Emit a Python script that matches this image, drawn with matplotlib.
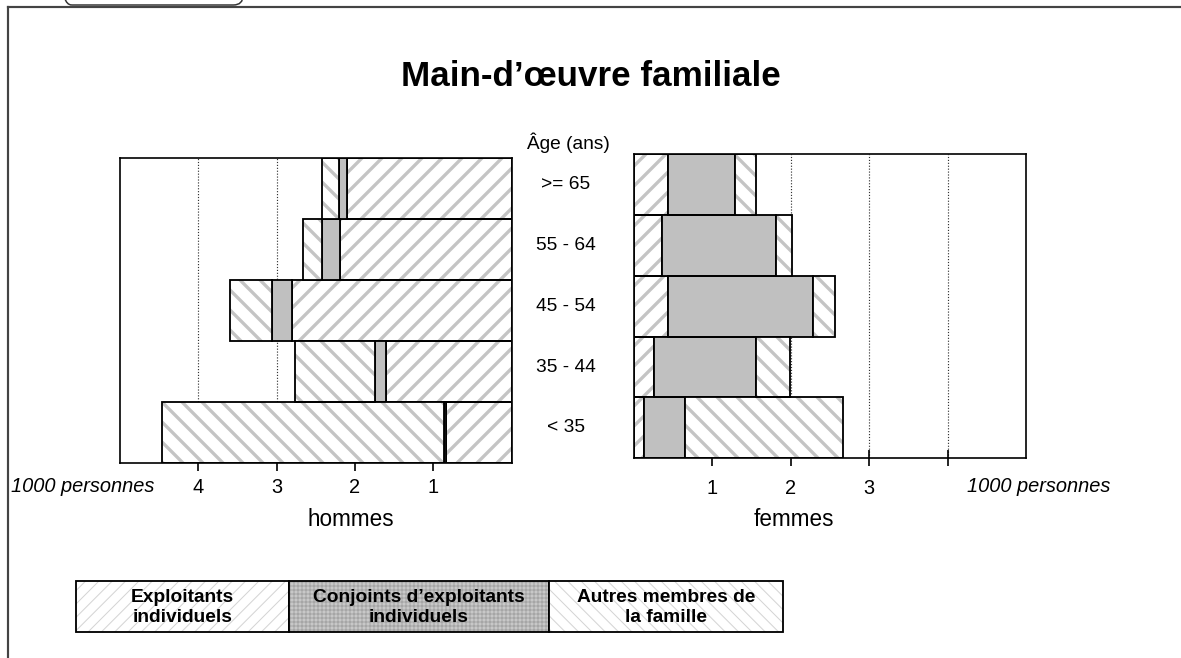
import matplotlib
matplotlib.use('Agg')
import matplotlib.pyplot as plt
import matplotlib.transforms as mtransforms
from matplotlib.patches import Rectangle, FancyBboxPatch
from matplotlib.lines import Line2D

plt.rcParams['font.family'] = ['Liberation Sans', 'DejaVu Sans']
plt.rcParams['hatch.linewidth'] = 2.0

# age groups, bottom to top
ages = ['< 35', '35 - 44', '45 - 54', '55 - 64', '>= 65']

# thousands of persons
hommes_exploitants = [0.84, 1.61, 2.81, 2.19, 2.10]
hommes_conjoints = [0.02, 0.14, 0.25, 0.23, 0.10]
hommes_autres = [3.61, 1.01, 0.53, 0.24, 0.22]

femmes_exploitants = [0.13, 0.26, 0.44, 0.36, 0.44]
femmes_conjoints = [0.52, 1.29, 1.84, 1.45, 0.85]
femmes_autres = [2.01, 0.44, 0.28, 0.20, 0.26]

ticks = [1, 2, 3, 4]
hommes_ticklabels = ['1', '2', '3', '4']
femmes_ticklabels = ['1', '2', '3', '']

legend_labels = ['Exploitants\nindividuels',
                 'Conjoints d\u2019exploitants\nindividuels',
                 'Autres membres de\nla famille']

W, H, DPI = 1181, 658, 120
STRIPE = '#c4c4c4'
GRAY = '#c0c0c0'

fig = plt.figure(figsize=(W / DPI, H / DPI), dpi=DPI)


def fx(px):
    return px / W


def fy(py):
    return 1 - py / H


ax_h = fig.add_axes([fx(120), fy(463.3), (511.7 - 120) / W, (463.3 - 158.3) / H])
ax_f = fig.add_axes([fx(634), fy(458.3), (1026 - 634) / W, (458.3 - 154) / H])


def stacked(ax, series):
    y = list(range(len(ages)))
    left = [0.0] * len(ages)
    for vals, hatch in series:
        if hatch:
            ax.barh(y, vals, left=left, height=1.0, color='white',
                    edgecolor=STRIPE, hatch=hatch, linewidth=0)
        else:
            ax.barh(y, vals, left=left, height=1.0, color=GRAY, linewidth=0)
        ax.barh(y, vals, left=left, height=1.0, fill=False,
                edgecolor='black', linewidth=1.1)
        left = [l + v for l, v in zip(left, vals)]


stacked(ax_h, [(hommes_exploitants, '//'), (hommes_conjoints, None), (hommes_autres, '\\\\')])
stacked(ax_f, [(femmes_exploitants, '//'), (femmes_conjoints, None), (femmes_autres, '\\\\')])

for ax, labels, pad in ((ax_h, hommes_ticklabels, 4), (ax_f, femmes_ticklabels, 7.3)):
    ax.set_ylim(-0.5, len(ages) - 0.5)
    ax.set_yticks([])
    ax.set_xticks(ticks, labels)
    ax.tick_params(axis='x', direction='inout', length=10, width=1, pad=pad, labelsize=12)
    ax.xaxis.grid(True, linestyle=(0, (1, 1.5)), color='#333333', linewidth=0.7)
    ax.set_axisbelow(True)
    for s in ax.spines.values():
        s.set_linewidth(1.0)

ax_h.set_xlim(5, 0)
ax_f.set_xlim(0, 5)

# texts
fig.text(fx(591), fy(76), 'Main-d\u2019\u0153uvre familiale', ha='center', va='center',
         fontsize=21, fontweight='bold')
fig.text(fx(568), fy(143), '\u00c2ge (ans)', ha='center', va='center', fontsize=11.5)
trans = mtransforms.blended_transform_factory(fig.transFigure, ax_f.transData)
for i, a in enumerate(ages):
    fig.text(fx(566), i, a, transform=trans, ha='center', va='center', fontsize=11.5)

fig.text(fx(83), fy(487), '1000 personnes', ha='center', va='center', fontsize=12, style='italic')
fig.text(fx(1039), fy(487), '1000 personnes', ha='center', va='center', fontsize=12, style='italic')
fig.text(fx(351), fy(520), 'hommes', ha='center', va='center', fontsize=13.5)
fig.text(fx(794), fy(520), 'femmes', ha='center', va='center', fontsize=13.5)

# legend boxes
cells = [76, 289, 549, 783]
styles = [('white', '#d4d4d4', '///'), ('#c8c8c8', '#a6a6a6', '+++++'), ('white', '#d4d4d4', '\\\\\\')]
for i, lab in enumerate(legend_labels):
    x0, x1 = cells[i], cells[i + 1]
    face, hcol, hatch = styles[i]
    p = Rectangle((fx(x0), fy(632)), (x1 - x0) / W, (632 - 581) / H, transform=fig.transFigure,
                  facecolor=face, edgecolor=hcol, hatch=hatch, linewidth=0)
    if hasattr(p, 'set_hatch_linewidth'):
        p.set_hatch_linewidth(0.6)
    fig.patches.append(p)
    fig.patches.append(Rectangle((fx(x0), fy(632)), (x1 - x0) / W, (632 - 581) / H,
                                 transform=fig.transFigure, fill=False,
                                 edgecolor='black', linewidth=1.1))
    fig.text(fx((x0 + x1) / 2), fy(607.5), lab, ha='center', va='center', fontsize=11.5,
             fontweight='bold', linespacing=1.3)

# outer frame and tab
fig.lines.append(Line2D([fx(8), 1], [fy(7), fy(7)], transform=fig.transFigure,
                        color='#444444', linewidth=1.3))
fig.lines.append(Line2D([fx(8), fx(8)], [fy(7), 0], transform=fig.transFigure,
                        color='#444444', linewidth=1.3))
tab = FancyBboxPatch((62 / DPI, (H - 5) / DPI), (243 - 62) / DPI, 40 / DPI,
                     boxstyle='round,pad=0,rounding_size=0.08', transform=fig.dpi_scale_trans,
                     fill=False, edgecolor='#333333', linewidth=0.9)
fig.patches.append(tab)

fig.savefig('out.png', dpi=DPI)
